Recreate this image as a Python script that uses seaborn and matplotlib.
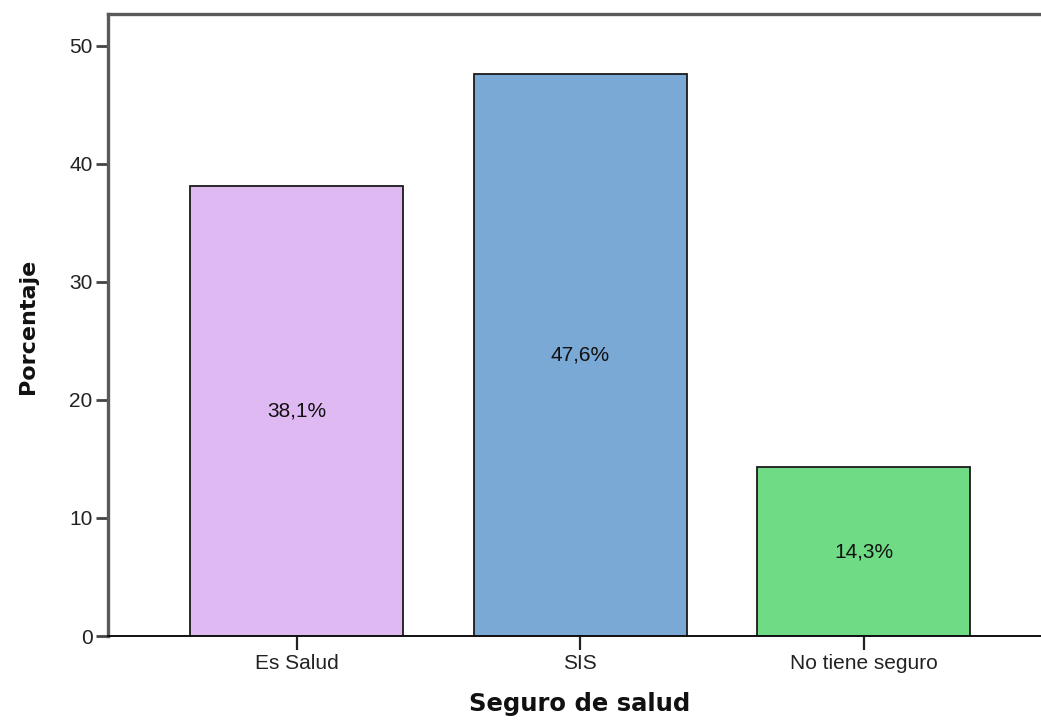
import matplotlib
matplotlib.use("Agg")
import matplotlib.pyplot as plt
import seaborn as sns
import pandas as pd

# datos del grafico
categorias = ["Es Salud", "SIS", "No tiene seguro"]
porcentajes = [38.1, 47.6, 14.3]
etiquetas = ["38,1%", "47,6%", "14,3%"]
colores = ["#dfb9f1", "#7aa9d6", "#6fdc85"]

df = pd.DataFrame({"Seguro": categorias, "Porcentaje": porcentajes})

sns.set_style("white")
plt.rcParams["font.family"] = ["Liberation Sans", "DejaVu Sans"]

fig = plt.figure(figsize=(10.41, 7.22), dpi=100)
ax = fig.add_axes([108 / 1041, (722 - 636) / 722, (1041 - 108) / 1041, (636 - 14) / 722])

sns.barplot(data=df, x="Seguro", y="Porcentaje", hue="Seguro",
            palette=colores, saturation=1, width=0.75, edgecolor="#1a1a1a",
            linewidth=1.3, legend=False, ax=ax)

# etiquetas dentro de las barras
for i, (v, txt) in enumerate(zip(porcentajes, etiquetas)):
    ax.text(i, v / 2, txt, ha="center", va="center", fontsize=15, color="#111111")

ax.set_xlim(-0.665, 2.625)
ax.set_ylim(0, 52.7)
ax.set_yticks([0, 10, 20, 30, 40, 50])

ax.spines["right"].set_visible(False)
for s in ["left", "top"]:
    ax.spines[s].set_color("#5a5a5a")
    ax.spines[s].set_linewidth(2.4)
ax.spines["bottom"].set_color("#111111")
ax.spines["bottom"].set_linewidth(1.4)

ax.tick_params(axis="y", left=True, length=9, width=2, color="#444444",
               labelsize=15, pad=2, labelcolor="#222222")
ax.tick_params(axis="x", bottom=True, length=10, width=1.6, color="#222222",
               labelsize=15, pad=3, labelcolor="#222222")

ax.set_ylabel("Porcentaje", fontsize=16, fontweight="bold",
              family="DejaVu Sans", va="center", color="#111111")
ax.yaxis.set_label_coords(-0.0857, 0.498)
ax.set_xlabel("Seguro de salud", fontsize=17.5, fontweight="bold",
              family="DejaVu Sans", va="center", color="#111111")
ax.xaxis.set_label_coords(0.506, -0.11)

fig.savefig("out.png", dpi=100)
